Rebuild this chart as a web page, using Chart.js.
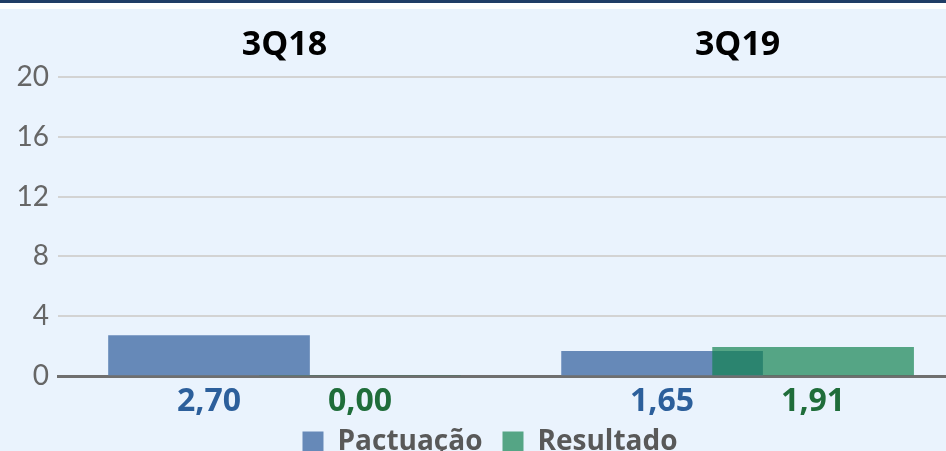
<!DOCTYPE html>
<html>
<head>
<meta charset="utf-8">
<script src="https://cdn.jsdelivr.net/npm/chart.js@4/dist/chart.umd.min.js"></script>
<style>
  html, body { margin: 0; padding: 0; background: #fff; }
  .topbar { height: 3px; background: #1f3d66; }
  .gap { height: 6px; background: #fff; }
  .wrap { width: 946px; height: 442px; background: #eaf3fd; position: relative; overflow: hidden; }
  .inner { width: 946px; height: 459px; }
</style>
</head>
<body>
<div class="topbar"></div>
<div class="gap"></div>
<div class="wrap"><div class="inner"><canvas id="grafico"></canvas></div></div>
<script>
const categorias = ["3Q18", "3Q19"];
const pactuacao = [2.70, 1.65];
const resultado = [0.00, 1.91];
const yTicks = [0, 4, 8, 12, 16, 20];
const series = ["Pactuação", "Resultado"];

const corPact = "#6689b8";
const corRes = "rgba(18,130,78,0.69)";
const corTxtPact = "#2c5f9b";
const corTxtRes = "#1f6d3a";
const fonteNegrito = "'Open Sans'";

// each category takes 3 slots on the x scale: blue, green, gap
const pontos = (vals, k) => vals.map((v, i) => ({ x: i * 3 + 1 + k, y: v }));
const fmt = (v) => v.toFixed(2).replace(".", ",");

const rotulosValor = {
  id: "rotulosValor",
  afterLayout(chart) {
    // legend in the original sits a bit right of centre
    chart.legend.left += 17;
    chart.legend.right += 17;
  },
  afterDatasetsDraw(chart) {
    const ctx = chart.ctx;
    const y0 = chart.scales.y.getPixelForValue(0);
    ctx.save();
    ctx.font = "bold 32px " + fonteNegrito;
    ctx.textAlign = "center";
    ctx.textBaseline = "middle";
    chart.data.datasets.forEach((ds, di) => {
      const meta = chart.getDatasetMeta(di);
      ctx.fillStyle = di === 0 ? corTxtPact : corTxtRes;
      meta.data.forEach((bar, j) => {
        ctx.fillText(fmt(ds.data[j].y), bar.x, y0 + 26);
      });
    });
    ctx.restore();
  },
};

new Chart(document.getElementById("grafico"), {
  type: "bar",
  data: {
    datasets: [
      { label: series[0], data: pontos(pactuacao, 0), backgroundColor: corPact, order: 1 },
      { label: series[1], data: pontos(resultado, 1), backgroundColor: corRes, order: 0 },
    ],
  },
  options: {
    responsive: true,
    maintainAspectRatio: false,
    animation: false,
    grouped: false,
    barThickness: 201,
    layout: { padding: { top: 0, bottom: 2, left: 0, right: 0 } },
    plugins: {
      tooltip: { enabled: false },
      legend: {
        position: "bottom",
        labels: {
          sort: (a, b) => a.datasetIndex - b.datasetIndex,
          boxWidth: 21,
          boxHeight: 21,
          padding: 20,
          color: "#595959",
          font: { family: fonteNegrito, size: 28, weight: "bold" },
        },
      },
    },
    scales: {
      x: {
        type: "linear",
        min: 0,
        max: 5.88,
        offset: false,
        grid: { display: false },
        ticks: { display: false },
        border: { display: true, color: "#6f6f6f", width: 3 },
        afterFit: (s) => { s.height = 32; },
      },
      x2: {
        type: "linear",
        position: "top",
        min: 0,
        max: 5.88,
        offset: false,
        grid: { display: false, drawTicks: false },
        border: { display: false },
        afterBuildTicks: (s) => { s.ticks = categorias.map((c, i) => ({ value: i * 3 + 1.5 })); },
        ticks: {
          padding: 11,
          color: "#000",
          font: { family: fonteNegrito, size: 34, weight: "bold" },
          callback: (v) => categorias[Math.round((v - 1.5) / 3)],
        },
        afterFit: (s) => { s.height = 68; },
      },
      y: {
        min: 0,
        max: 20,
        afterBuildTicks: (s) => { s.ticks = yTicks.map((v) => ({ value: v })); },
        grid: { color: "#d3d3d3", lineWidth: 2, drawTicks: false },
        border: { display: false },
        ticks: {
          padding: 9,
          color: "#666",
          font: { family: "Lato", size: 28 },
        },
        afterFit: (s) => { s.width = 58; },
      },
    },
  },
  plugins: [rotulosValor],
});
</script>
</body>
</html>
